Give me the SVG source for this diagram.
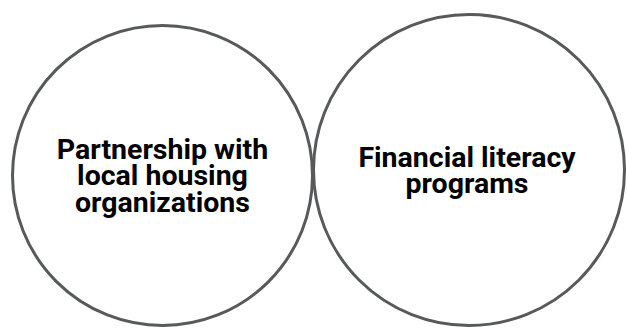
<svg xmlns="http://www.w3.org/2000/svg" width="627" height="329" viewBox="0 0 627 329">
  <style>
    .ring { fill: #ffffff; stroke: #58595b; stroke-width: 3; }
    .label { font-family: Roboto, "Liberation Sans", sans-serif; font-weight: bold; font-size: 28.5px; fill: #000000; text-anchor: middle; }
  </style>
  <rect width="627" height="329" fill="#ffffff"/>
  <g id="node-partnership">
    <circle class="ring" cx="162.5" cy="175.5" r="150"/>
    <text class="label" x="162.5" y="158.5">Partnership with</text>
    <text class="label" x="162.5" y="185">local housing</text>
    <text class="label" x="162.5" y="211.5">organizations</text>
  </g>
  <g id="node-financial-literacy">
    <circle class="ring" cx="469" cy="170" r="155.5"/>
    <text class="label" x="467" y="166.5">Financial literacy</text>
    <text class="label" x="467" y="193">programs</text>
  </g>
  <g id="connectors"></g>
</svg>
